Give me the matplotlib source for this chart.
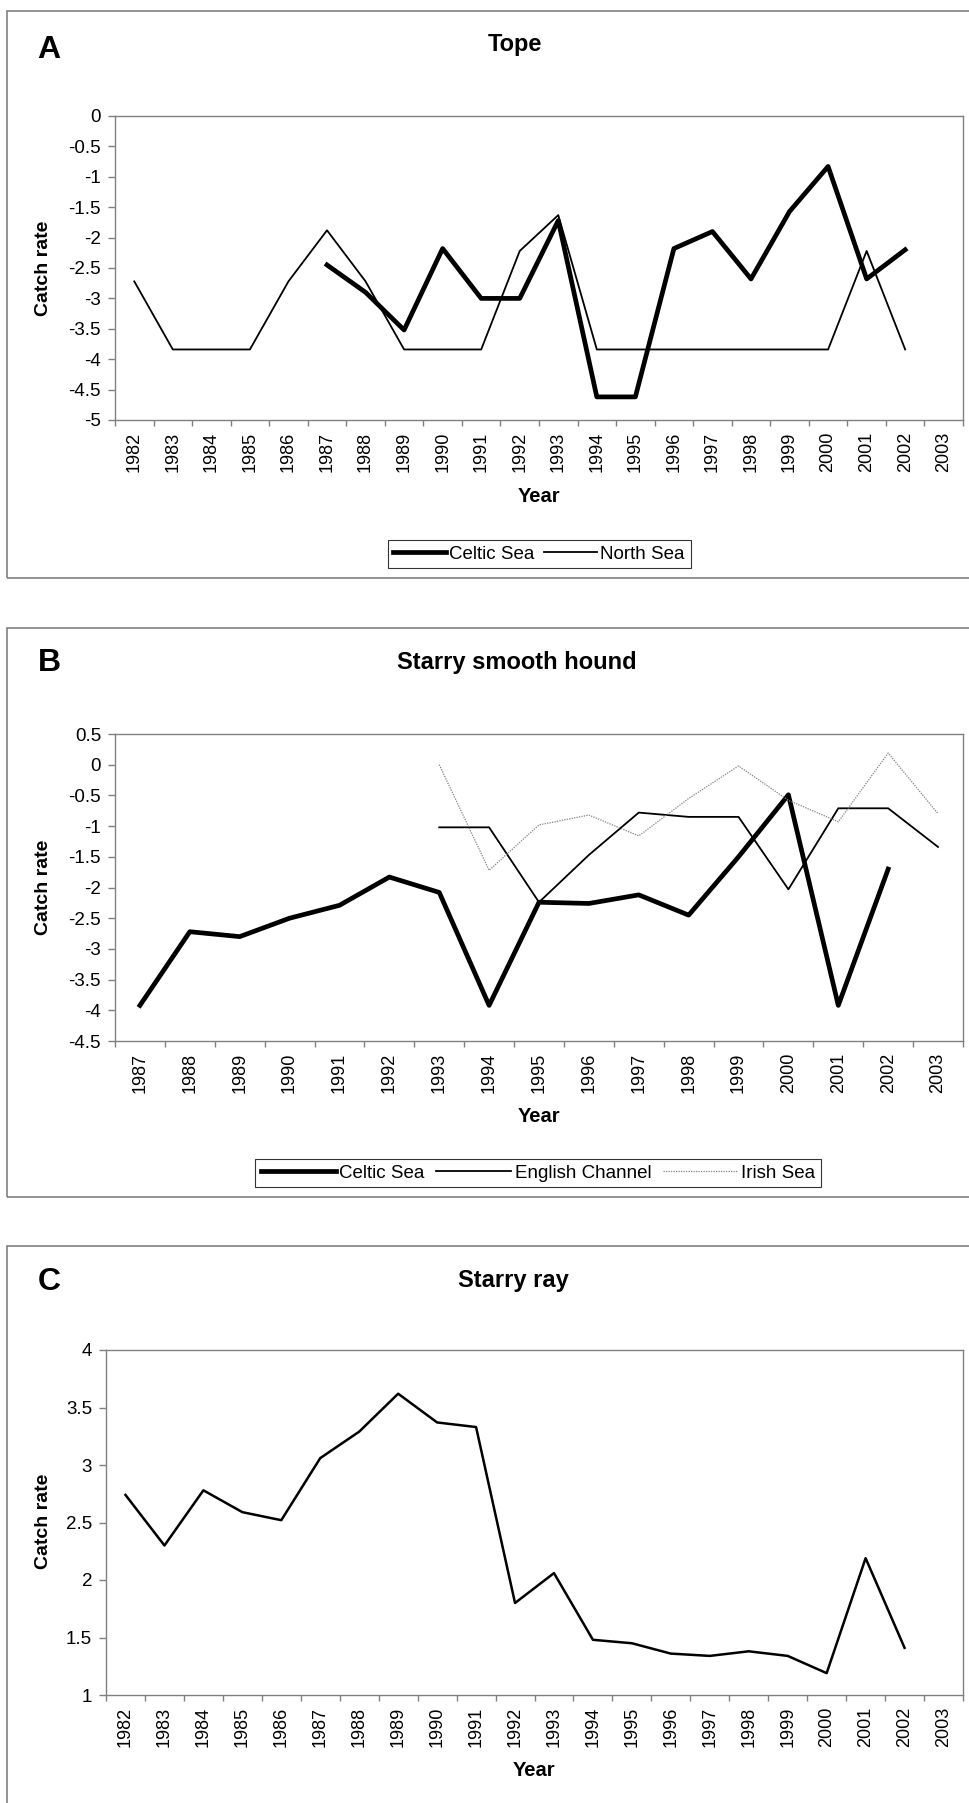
import numpy as np
import matplotlib
matplotlib.use("Agg")
import matplotlib.pyplot as plt
from matplotlib.patches import Rectangle

plt.rcParams['font.family'] = ['Liberation Sans', 'DejaVu Sans']

# ------------------------------
# Data
# ------------------------------
years_a = list(range(1982, 2004))
tope_celtic = [np.nan, np.nan, np.nan, np.nan, np.nan, -2.45, -2.90, -3.52, -2.18, -3.00, -3.00,
               -1.72, -4.62, -4.62, -2.18, -1.90, -2.68, -1.57, -0.83, -2.68, -2.20, np.nan]
tope_north = [-2.72, -3.84, -3.84, -3.84, -2.72, -1.88, -2.72, -3.84, -3.84, -3.84, -2.22,
              -1.63, -3.84, -3.84, -3.84, -3.84, -3.84, -3.84, -3.84, -2.22, -3.84, np.nan]

years_b = list(range(1987, 2004))
hound_celtic = [-3.92, -2.72, -2.80, -2.50, -2.29, -1.83, -2.08, -3.92, -2.24, -2.26, -2.12,
                -2.45, -1.50, -0.49, -3.92, -1.70, np.nan]
hound_channel = [np.nan, np.nan, np.nan, np.nan, np.nan, np.nan, -1.02, -1.02, -2.24, -1.47, -0.78,
                 -0.85, -0.85, -2.03, -0.71, -0.71, -1.34]
hound_irish = [np.nan, np.nan, np.nan, np.nan, np.nan, np.nan, 0.0, -1.72, -0.98, -0.82, -1.16,
               -0.55, -0.02, -0.58, -0.93, 0.19, -0.80]

years_c = list(range(1982, 2004))
ray_values = [2.74, 2.30, 2.78, 2.59, 2.52, 3.06, 3.29, 3.62, 3.37, 3.33, 1.80,
              2.06, 1.48, 1.45, 1.36, 1.34, 1.38, 1.34, 1.19, 2.19, 1.41, np.nan]

W, H = 970, 1803
GRAY = '#808080'

fig = plt.figure(figsize=(W / 100, H / 100), dpi=100)


def rect(left, top, right, bottom):
    return [left / W, 1 - bottom / H, (right - left) / W, (bottom - top) / H]


def fx(x):
    return x / W


def fy(y):
    return 1 - y / H


def setup_axis(ax, years, ylim, ystep):
    n = len(years)
    ax.set_xlim(-0.5, n - 0.5)
    ax.set_ylim(*ylim)
    ax.set_xticks(range(n))
    ax.set_xticklabels([str(y) for y in years], rotation=90, fontsize=13)
    ax.set_xticks(np.arange(-0.5, n, 1.0), minor=True)
    ax.tick_params(axis='x', which='major', length=0, pad=8.5)
    ax.tick_params(axis='x', which='minor', length=4, width=1, color=GRAY, direction='out')
    yt = np.arange(ylim[0], ylim[1] + ystep / 2, ystep)
    ax.set_yticks(yt)
    ax.set_yticklabels([('%g' % v) for v in yt], fontsize=13.5)
    ax.tick_params(axis='y', length=5, width=1, color=GRAY, pad=5)
    for s in ax.spines.values():
        s.set_color(GRAY)
        s.set_linewidth(1)


def panel_frame(top, bottom):
    fig.patches.append(Rectangle((fx(7), fy(bottom)), fx(1100) - fx(7), fy(top) - fy(bottom),
                                 transform=fig.transFigure, fill=False, edgecolor=GRAY,
                                 linewidth=1.2, zorder=0))


# ------------------------------
# Panel A: Tope
# ------------------------------
panel_frame(11, 578)
ax1 = fig.add_axes(rect(115, 116, 963, 420))
x = np.arange(len(years_a))
ax1.plot(x, tope_celtic, color='black', linewidth=3.4, label='Celtic Sea')
ax1.plot(x, tope_north, color='black', linewidth=1.3, label='North Sea')
setup_axis(ax1, years_a, (-5, 0), 0.5)
fig.text(fx(49), fy(50), 'A', fontsize=23, fontweight='bold', ha='center', va='center')
fig.text(fx(515), fy(45), 'Tope', fontsize=17, fontweight='bold', ha='center', va='center')
fig.text(fx(43), fy(268), 'Catch rate', fontsize=14, fontweight='bold', rotation=90,
         ha='center', va='center')
fig.text(fx(539), fy(497), 'Year', fontsize=14.5, fontweight='bold', ha='center', va='center')
leg = ax1.legend(loc='center', bbox_to_anchor=(fx(539), fy(554)), bbox_transform=fig.transFigure,
                 ncol=2, fontsize=13.5, handlelength=2.8, handletextpad=0.2, columnspacing=0.5,
                 frameon=True, fancybox=False, edgecolor='black', borderpad=0.3)
leg.get_frame().set_linewidth(0.8)

# ------------------------------
# Panel B: Starry smooth hound
# ------------------------------
panel_frame(628, 1197)
ax2 = fig.add_axes(rect(115, 734, 963, 1041))
x = np.arange(len(years_b))
ax2.plot(x, hound_celtic, color='black', linewidth=3.4, label='Celtic Sea')
ax2.plot(x, hound_channel, color='black', linewidth=1.3, label='English Channel')
ax2.plot(x, hound_irish, color=GRAY, linewidth=0.9, linestyle=(0, (1, 1)), label='Irish Sea')
setup_axis(ax2, years_b, (-4.5, 0.5), 0.5)
fig.text(fx(49), fy(663), 'B', fontsize=23, fontweight='bold', ha='center', va='center')
fig.text(fx(517), fy(662), 'Starry smooth hound', fontsize=17, fontweight='bold',
         ha='center', va='center')
fig.text(fx(43), fy(887), 'Catch rate', fontsize=14, fontweight='bold', rotation=90,
         ha='center', va='center')
fig.text(fx(539), fy(1116), 'Year', fontsize=14.5, fontweight='bold', ha='center', va='center')
leg = ax2.legend(loc='center', bbox_to_anchor=(fx(538), fy(1173)), bbox_transform=fig.transFigure,
                 ncol=3, fontsize=13.5, handlelength=4.0, handletextpad=0.2, columnspacing=0.6,
                 frameon=True, fancybox=False, edgecolor='black', borderpad=0.3)
leg.get_frame().set_linewidth(0.8)

# ------------------------------
# Panel C: Starry ray
# ------------------------------
panel_frame(1246, 1900)
ax3 = fig.add_axes(rect(106, 1350, 963, 1695))
x = np.arange(len(years_c))
ax3.plot(x, ray_values, color='black', linewidth=1.8)
setup_axis(ax3, years_c, (1, 4), 0.5)
fig.text(fx(49), fy(1282), 'C', fontsize=23, fontweight='bold', ha='center', va='center')
fig.text(fx(513), fy(1281), 'Starry ray', fontsize=17, fontweight='bold', ha='center', va='center')
fig.text(fx(43), fy(1521), 'Catch rate', fontsize=14, fontweight='bold', rotation=90,
         ha='center', va='center')
fig.text(fx(534), fy(1771), 'Year', fontsize=14.5, fontweight='bold', ha='center', va='center')

fig.savefig('out.png', dpi=100)
